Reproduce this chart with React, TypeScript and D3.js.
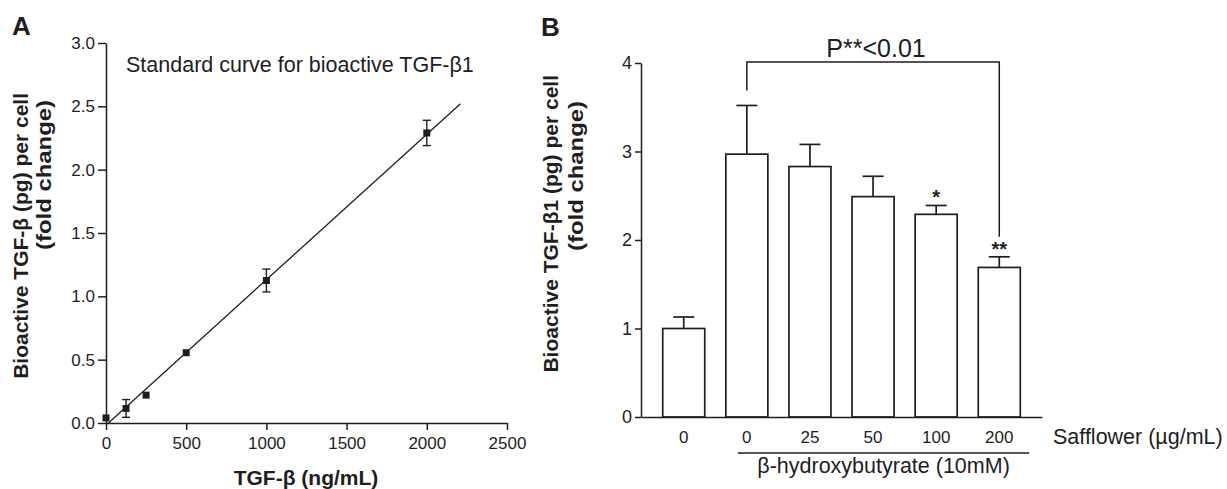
import React from 'react';
import * as d3 from 'd3';

const FONT = '"Liberation Sans", Arial, Helvetica, sans-serif';
const INK = '#1e1e1e';

// panel A - standard curve
const stdConc = [0, 125, 250, 500, 1000, 2000];
const stdFold = [0.04, 0.115, 0.22, 0.555, 1.125, 2.29];
const stdErr = [0, 0.07, 0, 0.015, 0.09, 0.1];
const stdXTicks = [0, 500, 1000, 1500, 2000, 2500];
const stdYTicks = [0, 0.5, 1, 1.5, 2, 2.5, 3];
const fitEnd = 2210;

// panel B - bars
const groupKeys = ['ctrl', 'bhb0', 'bhb25', 'bhb50', 'bhb100', 'bhb200'];
const safflowerLabels = ['0', '0', '25', '50', '100', '200'];
const tgfFold = [1.0, 2.97, 2.83, 2.49, 2.29, 1.69];
const tgfSem = [0.13, 0.55, 0.25, 0.23, 0.1, 0.12];
const sigMarks = ['', '', '', '', '*', '**'];
const barYTicks = [0, 1, 2, 3, 4];

function styleAxis(g: any, size: number) {
  g.attr('font-family', FONT).attr('font-size', size);
  g.selectAll('path, line').attr('stroke', INK).attr('stroke-width', 1.5);
  g.selectAll('text').attr('fill', INK);
}

// least squares fit for the standard curve
function linearFit(xs: number[], ys: number[]) {
  const mx = d3.mean(xs) as number;
  const my = d3.mean(ys) as number;
  const sxy = d3.sum(xs.map((x, i) => (x - mx) * (ys[i] - my)));
  const sxx = d3.sum(xs.map(x => (x - mx) ** 2));
  const slope = sxy / sxx;
  return { slope, intercept: my - slope * mx };
}

const StandardCurve = () => {
  const x = d3.scaleLinear().domain([0, 2500]).range([106, 507]);
  const y = d3.scaleLinear().domain([0, 3]).range([423, 43]);

  const xAxis = d3.axisBottom(x).tickValues(stdXTicks).tickSize(7).tickSizeOuter(0).tickPadding(7).tickFormat(d3.format('d'));
  const yAxis = d3.axisLeft(y).tickValues(stdYTicks).tickSize(8).tickSizeOuter(0).tickPadding(3).tickFormat(d3.format('.1f'));

  const { slope, intercept } = linearFit(stdConc, stdFold);
  const fitStart = -intercept / slope;
  const fitLine = d3.line<number>()
    .x(d => x(d))
    .y(d => y(slope * d + intercept));

  const pts = stdConc.map((c, i) => ({ cx: x(c), cy: y(stdFold[i]), lo: y(stdFold[i] - stdErr[i]), hi: y(stdFold[i] + stdErr[i]), e: stdErr[i] }));

  return (
    <g>
      <text x={12} y={35} fontSize={26} fontWeight="bold" fill={INK}>A</text>
      <g transform="translate(0,423)" ref={node => { if (node) styleAxis(d3.select(node).call(xAxis), 17); }} />
      <g transform="translate(106,0)" ref={node => { if (node) styleAxis(d3.select(node).call(yAxis), 17); }} />
      <path d={fitLine([fitStart, fitEnd]) || ''} fill="none" stroke={INK} strokeWidth={1.3} />
      {pts.map((p, i) => (
        <g key={i}>
          {p.e > 0.03 && (
            <g stroke={INK} strokeWidth={1.4}>
              <line x1={p.cx} x2={p.cx} y1={p.lo} y2={p.hi} />
              <line x1={p.cx - 4} x2={p.cx + 4} y1={p.lo} y2={p.lo} />
              <line x1={p.cx - 4} x2={p.cx + 4} y1={p.hi} y2={p.hi} />
            </g>
          )}
          <rect x={p.cx - 3.5} y={p.cy - 3.5} width={7} height={7} fill={INK} />
        </g>
      ))}
      <text x={126} y={72} fontSize={21.5} fill={INK}>Standard curve for bioactive TGF-β1</text>
      <text x={306} y={485} fontSize={21} fontWeight="bold" textAnchor="middle" fill={INK}>TGF-β (ng/mL)</text>
      <text transform="translate(28,93) rotate(-90)" fontSize={21} fontWeight="bold" textAnchor="end" fill={INK}>Bioactive TGF-β (pg) per cell</text>
      <text transform="translate(51,250) rotate(-90)" fontSize={21} fontWeight="bold" fill={INK} textLength={150} lengthAdjust="spacingAndGlyphs">(fold change)</text>
    </g>
  );
};

const BarPanel = () => {
  const x = d3.scaleBand().domain(groupKeys).range([641, 1042]).paddingInner(0.334).paddingOuter(0.344);
  const y = d3.scaleLinear().domain([0, 4]).range([417, 63]);
  const bw = x.bandwidth();

  const xAxis = d3.axisBottom(x).tickSize(0).tickSizeOuter(0).tickPadding(14).tickFormat((d: string) => safflowerLabels[groupKeys.indexOf(d)]);
  const yAxis = d3.axisLeft(y).tickValues(barYTicks).tickSize(6).tickSizeOuter(0).tickPadding(3).tickFormat(d3.format('d'));

  const cx = (k: string) => (x(k) as number) + bw / 2;
  const leftX = cx(groupKeys[1]);
  const rightX = cx(groupKeys[5]);
  const topY = y(4) - 1;

  return (
    <g>
      <text x={541} y={36} fontSize={26} fontWeight="bold" fill={INK}>B</text>
      {groupKeys.map((k, i) => {
        const c = cx(k);
        const top = y(tgfFold[i]);
        const errTop = y(tgfFold[i] + tgfSem[i]);
        return (
          <g key={k} stroke={INK} strokeWidth={1.7}>
            <rect x={x(k)} y={top} width={bw} height={y(0) - top} fill="#fff" />
            <line x1={c} x2={c} y1={top} y2={errTop} />
            <line x1={c - 10.5} x2={c + 10.5} y1={errTop} y2={errTop} />
            {sigMarks[i] && (
              <text x={c} y={errTop - 1} stroke="none" fill={INK} fontSize={20} fontWeight="bold" textAnchor="middle">{sigMarks[i]}</text>
            )}
          </g>
        );
      })}
      <g transform="translate(0,417)" ref={node => { if (node) styleAxis(d3.select(node).call(xAxis), 17); }} />
      <g transform="translate(641,0)" ref={node => { if (node) styleAxis(d3.select(node).call(yAxis), 18); }} />

      <path
        d={`M${leftX},${y(tgfFold[1] + tgfSem[1]) - 15}V${topY}H${rightX}V${y(tgfFold[5] + tgfSem[5]) - 20}`}
        fill="none" stroke={INK} strokeWidth={1.5}
      />
      <text x={(leftX + rightX) / 2 + 3} y={57} fontSize={25} textAnchor="middle" fill={INK}>P**&lt;0.01</text>

      <text x={1053} y={444} fontSize={21.5} fill={INK}>Safflower (µg/mL)</text>
      <line x1={leftX - 9} x2={rightX + 30} y1={453} y2={453} stroke={INK} strokeWidth={1.5} />
      <text x={(leftX + rightX + 21) / 2} y={473} fontSize={21.5} textAnchor="middle" fill={INK}>β-hydroxybutyrate (10mM)</text>

      <text transform="translate(558,75) rotate(-90)" fontSize={21} fontWeight="bold" textAnchor="end" fill={INK}>Bioactive TGF-β1 (pg) per cell</text>
      <text transform="translate(583,251) rotate(-90)" fontSize={21} fontWeight="bold" fill={INK} textLength={150} lengthAdjust="spacingAndGlyphs">(fold change)</text>
    </g>
  );
};

const App = () => (
  <svg
    width={1227}
    height={489}
    style={{ position: 'absolute', left: 0, top: 0, background: '#fff' }}
    fontFamily={FONT}
  >
    <rect width={1227} height={489} fill="#fff" />
    <StandardCurve />
    <BarPanel />
  </svg>
);

export default App;
